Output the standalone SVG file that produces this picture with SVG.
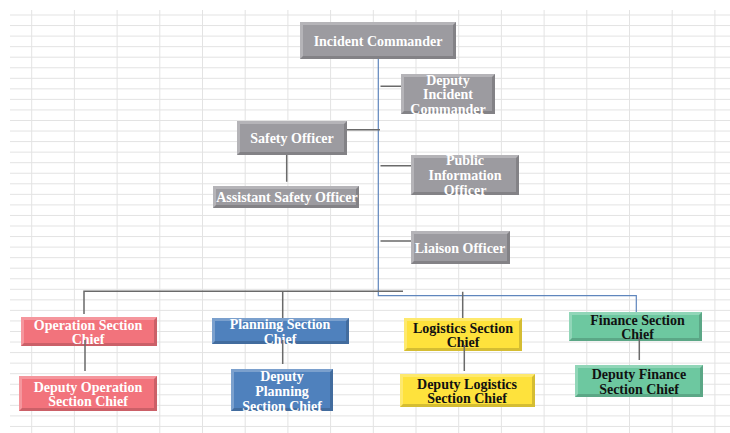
<svg xmlns="http://www.w3.org/2000/svg" width="730" height="433" viewBox="0 0 730 433">
<style>
.grid{stroke:#e3e3e3;stroke-width:1;fill:none}
.gray{fill:#9c9ba0}
.red{fill:#f2737c}
.blue{fill:#4f81bd}
.yellow{fill:#fee23c}
.green{fill:#6dc8a0}
.lt{fill:#ffffff;fill-opacity:0.25}
.dk{fill:#000000;fill-opacity:0.16}
text{font-family:"Liberation Serif","Times New Roman",serif;font-weight:bold;text-anchor:middle;font-size:14px}
.w{fill:#ffffff}
.b{fill:#111111}
.c{stroke:#6a6a6a;stroke-width:1.5;fill:none}
.cb{stroke:#5f86bd;stroke-width:1.2;fill:none}
</style>
<rect width="730" height="433" fill="#ffffff"/>
<g id="grid" class="grid">
<path d="M10 15H730M10 25.55H730M10 36.1H730M10 46.65H730M10 57.2H730M10 67.75H730M10 78.3H730M10 88.85H730M10 99.4H730M10 109.95H730M10 120.5H730M10 131.05H730M10 141.6H730M10 152.15H730M10 162.7H730M10 173.25H730M10 183.8H730M10 194.35H730M10 204.9H730M10 215.45H730M10 226H730M10 236.55H730M10 247.1H730M10 257.65H730M10 268.2H730M10 278.75H730M10 289.3H730M10 299.85H730M10 310.4H730M10 320.95H730M10 331.5H730M10 342.05H730M10 352.6H730M10 363.15H730M10 373.7H730M10 384.25H730M10 394.8H730M10 405.35H730M10 415.9H730M10 426.45H730"/>
<path d="M31.7 10V433M74.4 10V433M117.1 10V433M159.8 10V433M202.5 10V433M245.2 10V433M287.9 10V433M330.6 10V433M373.3 10V433M416 10V433M458.7 10V433M501.4 10V433M544.1 10V433M586.8 10V433M629.5 10V433M672.2 10V433M714.9 10V433"/>
</g>
<g id="incident-commander">
<rect class="gray" x="300" y="22" width="156" height="37"/>
<path class="lt" d="M300 22H456L453 25H303V56L300 59Z"/><path class="dk" d="M456 22V59H300L303 56H453V25Z"/>
<text class="w" x="378" y="46" font-size="14.3">Incident Commander</text>
</g>
<g id="deputy-incident-commander">
<rect class="gray" x="401" y="74" width="94" height="40"/>
<path class="lt" d="M401 74H495L492 77H404V111L401 114Z"/><path class="dk" d="M495 74V114H401L404 111H492V77Z"/>
<text class="w" x="448" y="84.5">Deputy</text>
<text class="w" x="448" y="99">Incident</text>
<text class="w" x="448" y="113.5">Commander</text>
</g>
<g id="safety-officer">
<rect class="gray" x="237" y="121" width="110" height="34"/>
<path class="lt" d="M237 121H347L344 124H240V152L237 155Z"/><path class="dk" d="M347 121V155H237L240 152H344V124Z"/>
<text class="w" x="292" y="142.5">Safety Officer</text>
</g>
<g id="assistant-safety-officer">
<rect class="gray" x="213" y="186" width="146" height="22"/>
<path class="lt" d="M213 186H359L356 189H216V205L213 208Z"/><path class="dk" d="M359 186V208H213L216 205H356V189Z"/>
<text class="w" x="287" y="201.8" font-size="12.8">Assistant Safety Officer</text>
</g>
<g id="public-information-officer">
<rect class="gray" x="411" y="155" width="108" height="40"/>
<path class="lt" d="M411 155H519L516 158H414V192L411 195Z"/><path class="dk" d="M519 155V195H411L414 192H516V158Z"/>
<text class="w" x="465" y="165">Public</text>
<text class="w" x="465" y="179.5">Information</text>
<text class="w" x="465" y="194.5">Officer</text>
</g>
<g id="liaison-officer">
<rect class="gray" x="411" y="231" width="99" height="33"/>
<path class="lt" d="M411 231H510L507 234H414V261L411 264Z"/><path class="dk" d="M510 231V264H411L414 261H507V234Z"/>
<text class="w" x="460" y="253">Liaison Officer</text>
</g>
<g id="operation-section-chief">
<rect class="red" x="21" y="317" width="136" height="29"/>
<path class="lt" d="M21 317H157L154 320H24V343L21 346Z"/><path class="dk" d="M157 317V346H21L24 343H154V320Z"/>
<text class="w" x="88" y="329.5">Operation Section</text>
<text class="w" x="88" y="344">Chief</text>
</g>
<g id="deputy-operation-section-chief">
<rect class="red" x="19" y="376" width="138" height="35"/>
<path class="lt" d="M19 376H157L154 379H22V408L19 411Z"/><path class="dk" d="M157 376V411H19L22 408H154V379Z"/>
<text class="w" x="88" y="391.5">Deputy Operation</text>
<text class="w" x="88" y="406">Section Chief</text>
</g>
<g id="planning-section-chief">
<rect class="blue" x="212" y="318" width="137" height="26"/>
<path class="lt" d="M212 318H349L346 321H215V341L212 344Z"/><path class="dk" d="M349 318V344H212L215 341H346V321Z"/>
<text class="w" x="280" y="328.5">Planning Section</text>
<text class="w" x="280" y="343.5">Chief</text>
</g>
<g id="deputy-planning-section-chief">
<rect class="blue" x="231" y="369" width="102" height="42"/>
<path class="lt" d="M231 369H333L330 372H234V408L231 411Z"/><path class="dk" d="M333 369V411H231L234 408H330V372Z"/>
<text class="w" x="282" y="380.5">Deputy</text>
<text class="w" x="282" y="395.5">Planning</text>
<text class="w" x="282" y="410.5">Section Chief</text>
</g>
<g id="logistics-section-chief">
<rect class="yellow" x="404" y="318" width="118" height="33"/>
<path class="lt" d="M404 318H522L519 321H407V348L404 351Z"/><path class="dk" d="M522 318V351H404L407 348H519V321Z"/>
<text class="b" x="463" y="332.5">Logistics Section</text>
<text class="b" x="463" y="346.5">Chief</text>
</g>
<g id="deputy-logistics-section-chief">
<rect class="yellow" x="400" y="374" width="135" height="33"/>
<path class="lt" d="M400 374H535L532 377H403V404L400 407Z"/><path class="dk" d="M535 374V407H400L403 404H532V377Z"/>
<text class="b" x="467" y="388.5">Deputy Logistics</text>
<text class="b" x="467" y="403">Section Chief</text>
</g>
<g id="finance-section-chief">
<rect class="green" x="569" y="312" width="133" height="29"/>
<path class="lt" d="M569 312H702L699 315H572V338L569 341Z"/><path class="dk" d="M702 312V341H569L572 338H699V315Z"/>
<text class="b" x="637.5" y="325">Finance Section</text>
<text class="b" x="637.5" y="339">Chief</text>
</g>
<g id="deputy-finance-section-chief">
<rect class="green" x="575" y="365" width="128" height="32"/>
<path class="lt" d="M575 365H703L700 368H578V394L575 397Z"/><path class="dk" d="M703 365V397H575L578 394H700V368Z"/>
<text class="b" x="639" y="378.5">Deputy Finance</text>
<text class="b" x="639" y="393.5">Section Chief</text>
</g>
<g id="connectors">
<path class="cb" d="M378.3 59V295.7H636.3V312"/>
<path class="c" d="M380.5 86.3H401M347 129.7H380M380.5 165.7H411M380.5 241H411M286.7 155V181.7"/>
<path class="c" d="M84 314V291.2H403M282.7 291.2V318M462.7 291.7V318"/>
<path class="c" d="M85 340V371M282.7 340V364M464.3 345V371M639.3 337V360"/>
</g>
</svg>
